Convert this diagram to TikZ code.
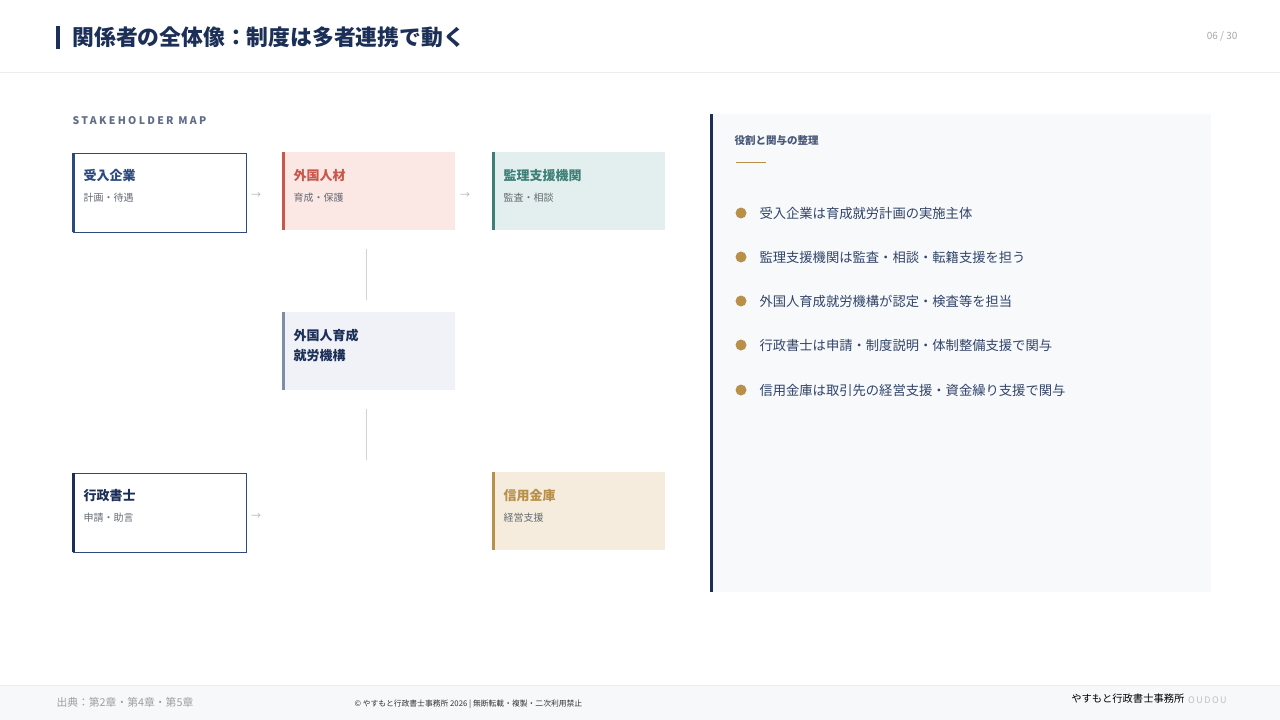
\documentclass[tikz,border=0pt]{standalone}
\usepackage{fontspec}
\setmainfont{Noto Sans CJK JP}
\newfontfamily\spaced[LetterSpace=22]{Noto Sans CJK JP}
\definecolor{navy}{HTML}{1B2F57}
\definecolor{blu}{HTML}{2A4A80}
\definecolor{red1}{HTML}{C9574A}
\definecolor{redbg}{HTML}{FBE8E5}
\definecolor{teal1}{HTML}{3E7F78}
\definecolor{tealbg}{HTML}{E3EFEE}
\definecolor{gry1}{HTML}{7E8EA6}
\definecolor{grybg}{HTML}{F1F2F7}
\definecolor{gold}{HTML}{B8904A}
\definecolor{goldbg}{HTML}{F5ECDD}
\definecolor{sub}{HTML}{666B75}
\definecolor{panel}{HTML}{F7F9FB}
\definecolor{foot}{HTML}{F7F8FA}
\tikzset{x=1pt,y=-1pt,
 ttl/.style={anchor=north west,font=\fontsize{13}{20}\selectfont\bfseries},
 st/.style={anchor=north west,font=\fontsize{10}{12}\selectfont,text=sub},
 arr/.style={font=\fontsize{10}{12}\selectfont,text=gray!60},
 item/.style={anchor=west,font=\fontsize{13.3}{15}\selectfont,text=navy!90},
 dot/.style={circle,fill=gold,inner sep=0pt,minimum size=11pt}}
\begin{document}
\begin{tikzpicture}
\useasboundingbox (0,0) rectangle (1280,720);
\fill[white] (0,0) rectangle (1280,720);
% header
\draw[gray!15] (0,72.5) -- (1280,72.5);
\fill[navy] (56,26) rectangle (60,49);
\node[anchor=west,font=\fontsize{21.8}{26}\selectfont\bfseries,text=navy] (title) at (69,37) {関係者の全体像：制度は多者連携で動く};
\node[anchor=east,font=\fontsize{10}{12}\selectfont,text=gray!70] (pg) at (1241,36) {06 / 30};
% map label
\node[anchor=west,font=\spaced\fontsize{10.5}{12}\selectfont\bfseries,text=navy!70] (ml) at (69,121) {STAKEHOLDER MAP};
% boxes
\draw[blu,fill=white] (73,153) rectangle (246,232);
\fill[blu] (72,153) rectangle (75,232);
\node[ttl,text=blu] (a) at (80,166) {受入企業};
\node[st] (a2) at (80,190) {計画・待遇};
\fill[redbg] (282,152) rectangle (455,230);
\fill[red1] (282,152) rectangle (285,230);
\node[ttl,text=red1] (b) at (290,166) {外国人材};
\node[st] (b2) at (290,190) {育成・保護};
\fill[tealbg] (492,152) rectangle (665,230);
\fill[teal1] (492,152) rectangle (495,230);
\node[ttl,text=teal1] (c) at (500,166) {監理支援機関};
\node[st] (c2) at (500,190) {監査・相談};
\fill[grybg] (282,312) rectangle (455,390);
\fill[gry1] (282,312) rectangle (285,390);
\node[ttl,text=navy,align=left] (d) at (290,326) {外国人育成\\就労機構};
\draw[blu,fill=white] (73,473) rectangle (246,552);
\fill[navy] (72,473) rectangle (75,552);
\node[ttl,text=navy] (e) at (80,486) {行政書士};
\node[st] (e2) at (80,510) {申請・助言};
\fill[goldbg] (492,472) rectangle (665,550);
\fill[gold] (492,472) rectangle (495,550);
\node[ttl,text=gold] (f) at (500,486) {信用金庫};
\node[st] (f2) at (500,510) {経営支援};
\node[arr] (r1) at (256,195) {→};
\node[arr] (r2) at (465,195) {→};
\node[arr] (r3) at (256,516) {→};
\draw[gray!35] (366,249) -- (366,300);
\draw[gray!35] (366,409) -- (366,460);
% panel
\fill[panel] (711,114) rectangle (1211,592);
\fill[navy] (710,114) rectangle (713,592);
\node[anchor=west,font=\fontsize{10.5}{12}\selectfont\bfseries,text=navy!80] (pt) at (731,141) {役割と関与の整理};
\draw[gold] (736,162) -- (766,162);
\foreach \y/\t [count=\i] in {213/受入企業は育成就労計画の実施主体,257/監理支援機関は監査・相談・転籍支援を担う,301/外国人育成就労機構が認定・検査等を担当,345/行政書士は申請・制度説明・体制整備支援で関与,390/信用金庫は取引先の経営支援・資金繰り支援で関与}{
 \node[dot] (d\i) at (741,\y) {};
 \node[item] (t\i) at (756,\y) {\t};
}
% footer
\fill[foot] (0,685) rectangle (1280,720);
\draw[gray!15] (0,685) -- (1280,685);
\node[anchor=west,font=\fontsize{10.8}{12}\selectfont,text=gray!75] (src) at (53,702) {出典：第2章・第4章・第5章};
\node[anchor=west,font=\fontsize{7.8}{9}\selectfont,text=black!80] (cp) at (351,704) {© やすもと行政書士事務所 2026 | 無断転載・複製・二次利用禁止};
\node[anchor=east,font=\fontsize{10.3}{12}\selectfont,text=black] (br) at (1188,699) {やすもと行政書士事務所};
\node[anchor=west,font=\fontsize{9}{11}\selectfont,text=gray!50,inner sep=0pt] (br2) at (1188,700) {O\,U\,D\,O\,U};
\end{tikzpicture}
\end{document}
